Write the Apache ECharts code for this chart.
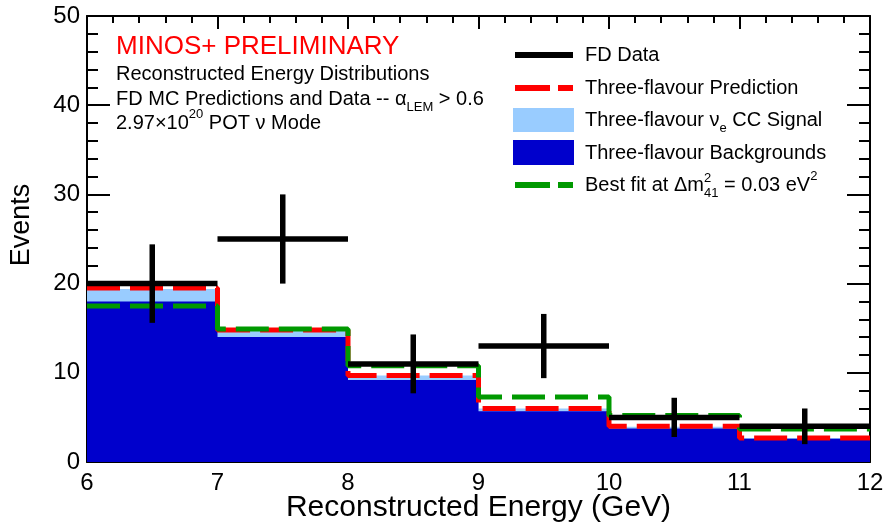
<!DOCTYPE html>
<html>
<head>
<meta charset="utf-8">
<script src="https://cdn.jsdelivr.net/npm/echarts@6/dist/echarts.min.js"></script>
<style>
  html, body { margin: 0; padding: 0; background: #fff; }
  #main { width: 887px; height: 524px; }
</style>
</head>
<body>
<div id="main"></div>
<script>
// bin edges (GeV) and per-bin contents
var binEdges = [6, 7, 8, 9, 10, 11, 12];
var fdData = [20, 25, 11, 13, 5, 4];
var fdErr = [4.4, 5.0, 3.3, 3.6, 2.2, 2.0];
var background = [18.0, 14.0, 9.2, 5.7, 3.75, 2.6];
var signal = [1.4, 0.8, 0.5, 0.3, 0.2, 0.1];
var prediction = [19.5, 14.8, 9.7, 6.0, 4.0, 2.7];
var bestFit = [17.5, 14.9, 10.8, 7.3, 5.2, 3.7];
var yTicks = [0, 10, 20, 30, 40, 50];

var FONT = "'Liberation Sans', Arial, Helvetica, sans-serif";

// histogram -> step points (left edge of each bin + closing right edge)
function steps(vals) {
  var pts = [];
  for (var i = 0; i < binEdges.length; i++) {
    pts.push([binEdges[i], vals[Math.min(i, vals.length - 1)]]);
  }
  return pts;
}

var total = background.map(function (b, i) { return b + signal[i]; });

var myChart = echarts.init(document.getElementById('main'));

var axisCommon = {
  type: 'value',
  axisLine: { show: true, onZero: false, lineStyle: { color: '#000', width: 2 } },
  splitLine: { show: false },
  minorSplitLine: { show: false }
};

function measure(txt, size) {
  var ctx = document.createElement('canvas').getContext('2d');
  ctx.font = size + 'px ' + FONT;
  return ctx.measureText(txt).width;
}

var subSup = {
  sub: { fontSize: 13, fontFamily: FONT, verticalAlign: 'bottom', lineHeight: 30 },
  sup: { fontSize: 13, fontFamily: FONT, verticalAlign: 'top', lineHeight: 30 }
};

function txt(x, y, text, size, color) {
  return {
    type: 'text', x: x, y: y, z: 100,
    style: {
      text: text, fontSize: size, fontFamily: FONT, fill: color || '#000',
      verticalAlign: 'middle', align: 'left', lineHeight: 30, rich: subSup
    }
  };
}

var legX1 = 515, legX2 = 573, legText = 585;
var bestFitPrefix = 'Best fit at \u0394m';
var sup2x = legText + measure(bestFitPrefix, 20);

var graphics = [
  txt(116, 47, 'MINOS+ PRELIMINARY', 26, '#ff0000'),
  txt(116, 74, 'Reconstructed Energy Distributions', 20),
  txt(116, 99, 'FD MC Predictions and Data -- \u03b1{sub|LEM} > 0.6', 20),
  txt(116, 123, '2.97\u00d710{sup|20} POT \u03bd Mode', 20),
  // legend
  { type: 'line', shape: { x1: legX1, y1: 55, x2: legX2, y2: 55 }, style: { stroke: '#000', lineWidth: 6 } },
  txt(legText, 55, 'FD Data', 20),
  { type: 'line', shape: { x1: legX1, y1: 88, x2: legX2, y2: 88 }, style: { stroke: '#ff0000', lineWidth: 6, lineDash: [35, 8] } },
  txt(legText, 88, 'Three-flavour Prediction', 20),
  { type: 'rect', shape: { x: 513, y: 108, width: 61, height: 24 }, style: { fill: '#99ccff' } },
  txt(legText, 120, 'Three-flavour \u03bd{sub|e} CC Signal', 20),
  { type: 'rect', shape: { x: 513, y: 140, width: 61, height: 25 }, style: { fill: '#0000cc' } },
  txt(legText, 153, 'Three-flavour Backgrounds', 20),
  { type: 'line', shape: { x1: legX1, y1: 185, x2: legX2, y2: 185 }, style: { stroke: '#009900', lineWidth: 6, lineDash: [35, 8] } },
  txt(legText, 185, bestFitPrefix + '{sub|41} = 0.03 eV{sup|2}', 20),
  { type: 'text', x: sup2x, y: 178, z: 100, style: { text: '2', fontSize: 13, fontFamily: FONT, fill: '#000', verticalAlign: 'middle' } }
];

myChart.setOption({
  animation: false,
  backgroundColor: '#fff',
  grid: { left: 87, right: 17, top: 16, bottom: 62, containLabel: false, outerBoundsMode: 'none' },
  xAxis: [
    Object.assign({}, axisCommon, {
      min: 6, max: 12, interval: 1, position: 'bottom',
      name: 'Reconstructed Energy (GeV)', nameLocation: 'middle', nameGap: 31, nameMoveOverlap: false,
      nameTextStyle: { fontSize: 30, fontFamily: FONT, color: '#000' },
      axisTick: { show: true, inside: true, length: 13, lineStyle: { color: '#000', width: 2 } },
      minorTick: { show: true, splitNumber: 5, length: 7, lineStyle: { color: '#000', width: 2 } },
      axisLabel: { fontSize: 24, fontFamily: FONT, color: '#000', margin: 9 }
    }),
    Object.assign({}, axisCommon, {
      min: 6, max: 12, interval: 1, position: 'top',
      axisTick: { show: true, inside: true, length: 13, lineStyle: { color: '#000', width: 2 } },
      minorTick: { show: true, splitNumber: 5, length: 7, lineStyle: { color: '#000', width: 2 } },
      axisLabel: { show: false }
    })
  ],
  yAxis: [
    Object.assign({}, axisCommon, {
      min: yTicks[0], max: yTicks[yTicks.length - 1], interval: 10, position: 'left',
      name: 'Events', nameLocation: 'middle', nameGap: 52, nameMoveOverlap: false,
      nameTextStyle: { fontSize: 27, fontFamily: FONT, color: '#000', padding: [0, 0, 0, 28] },
      axisTick: { show: true, inside: true, length: 23, lineStyle: { color: '#000', width: 2 } },
      minorTick: { show: true, splitNumber: 5, length: 11, lineStyle: { color: '#000', width: 2 } },
      axisLabel: { fontSize: 24, fontFamily: FONT, color: '#000', margin: 7 }
    }),
    Object.assign({}, axisCommon, {
      min: yTicks[0], max: yTicks[yTicks.length - 1], interval: 10, position: 'right',
      axisTick: { show: true, inside: true, length: 23, lineStyle: { color: '#000', width: 2 } },
      minorTick: { show: true, splitNumber: 5, length: 11, lineStyle: { color: '#000', width: 2 } },
      axisLabel: { show: false }
    })
  ],
  graphic: graphics,
  series: [
    {
      name: 'Three-flavour nu_e CC Signal', type: 'line', step: 'end',
      data: steps(total), showSymbol: false, symbol: 'none', z: 1,
      lineStyle: { width: 0, opacity: 0 },
      areaStyle: { color: '#99ccff', opacity: 1 }
    },
    {
      name: 'Three-flavour Backgrounds', type: 'line', step: 'end',
      data: steps(background), showSymbol: false, symbol: 'none', z: 2,
      lineStyle: { width: 0, opacity: 0 },
      areaStyle: { color: '#0000cc', opacity: 1 }
    },
    {
      name: 'Three-flavour Prediction', type: 'line', step: 'end',
      data: steps(prediction), showSymbol: false, symbol: 'none', z: 3,
      lineStyle: { color: '#ff0000', width: 5, type: [33, 10] }
    },
    {
      name: 'Best fit', type: 'line', step: 'end',
      data: steps(bestFit), showSymbol: false, symbol: 'none', z: 4,
      lineStyle: { color: '#009900', width: 5, type: [33, 10] }
    },
    {
      name: 'FD Data', type: 'custom', z: 5,
      data: fdData.map(function (v, i) { return [binEdges[i], binEdges[i + 1], v, fdErr[i]]; }),
      encode: { x: [0, 1], y: [2] },
      renderItem: function (params, api) {
        var lo = api.value(0), hi = api.value(1), y = api.value(2), e = api.value(3);
        var mid = (lo + hi) / 2;
        var pL = api.coord([lo, y]), pR = api.coord([hi, y]);
        var pT = api.coord([mid, y + e]), pB = api.coord([mid, y - e]);
        var st = { stroke: '#000', lineWidth: 5.5 };
        return {
          type: 'group',
          children: [
            { type: 'line', shape: { x1: pL[0], y1: pL[1], x2: pR[0], y2: pR[1] }, style: st },
            { type: 'line', shape: { x1: pT[0], y1: pT[1], x2: pB[0], y2: pB[1] }, style: st }
          ]
        };
      }
    }
  ]
});
</script>
</body>
</html>
